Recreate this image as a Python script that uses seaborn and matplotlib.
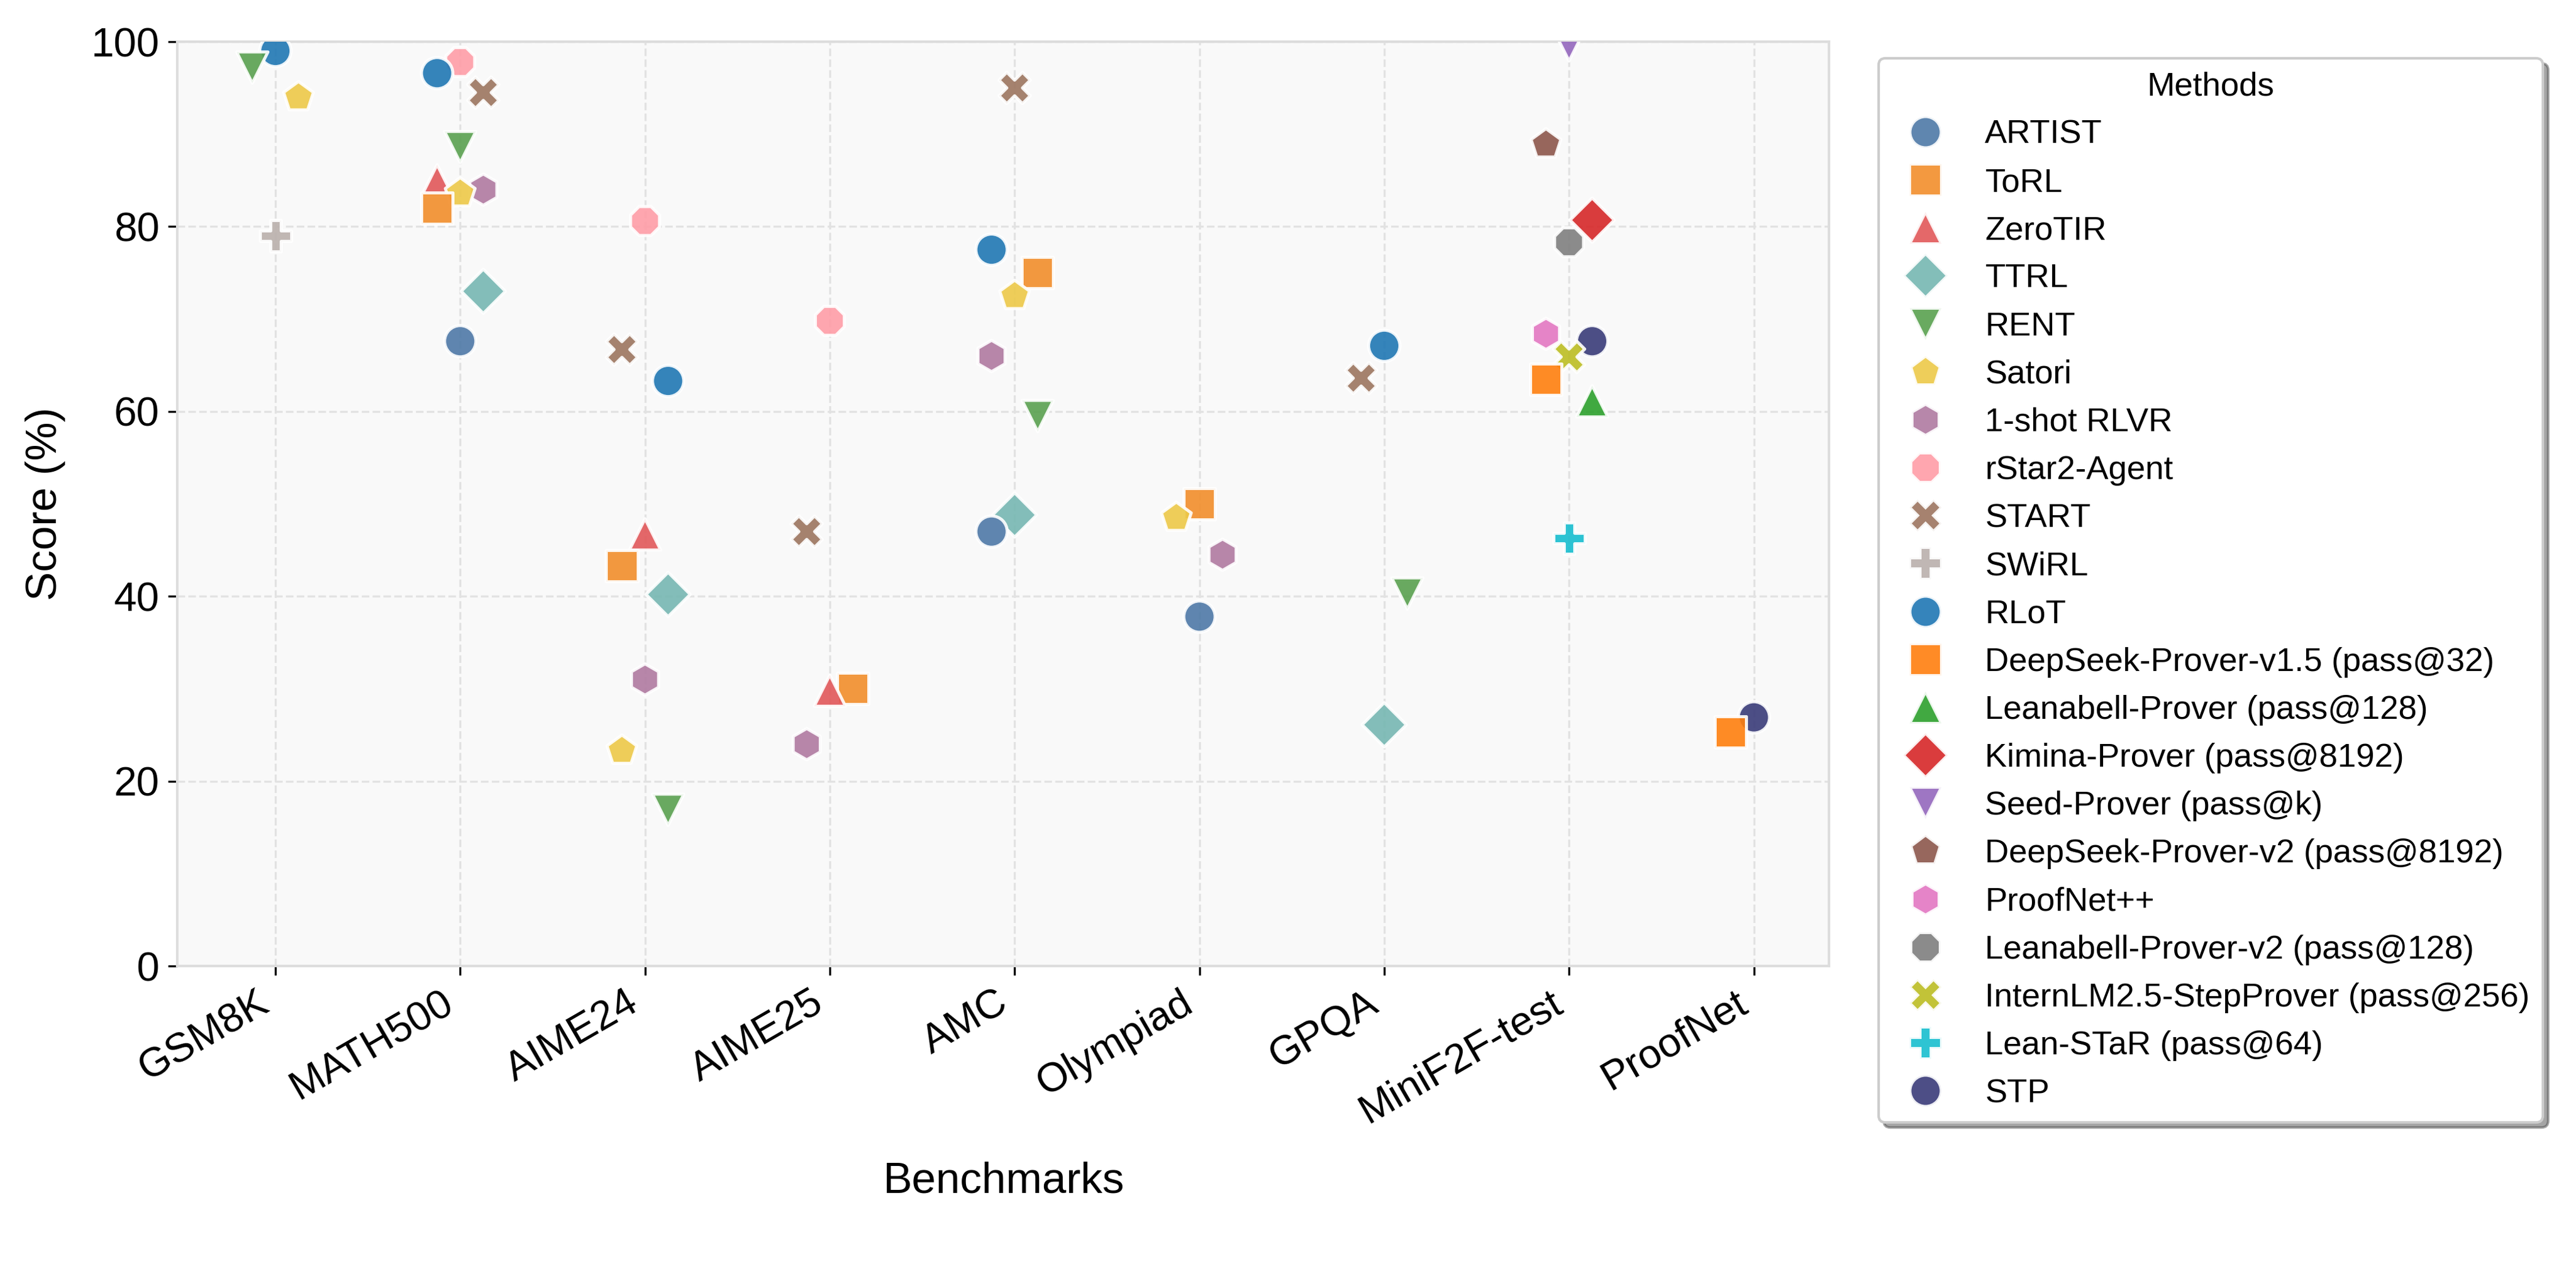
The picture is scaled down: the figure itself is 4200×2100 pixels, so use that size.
import numpy as np
import pandas as pd
import matplotlib.pyplot as plt
import seaborn as sns

# Benchmarks on the x axis
benchmarks = ["GSM8K", "MATH500", "AIME24", "AIME25", "AMC",
              "Olympiad", "GPQA", "MiniF2F-test", "ProofNet"]

# Methods, in legend order
methods = ["ARTIST", "ToRL", "ZeroTIR", "TTRL", "RENT", "Satori",
           "1-shot RLVR", "rStar2-Agent", "START", "SWiRL", "RLoT",
           "DeepSeek-Prover-v1.5 (pass@32)", "Leanabell-Prover (pass@128)",
           "Kimina-Prover (pass@8192)", "Seed-Prover (pass@k)",
           "DeepSeek-Prover-v2 (pass@8192)", "ProofNet++",
           "Leanabell-Prover-v2 (pass@128)", "InternLM2.5-StepProver (pass@256)",
           "Lean-STaR (pass@64)", "STP"]

# Scores per benchmark
gsm8k = {"RLoT": 99.0, "RENT": 97.2, "Satori": 94.0, "SWiRL": 79.0}
math500 = {"rStar2-Agent": 97.8, "RLoT": 96.6, "START": 94.5, "RENT": 88.6,
           "ZeroTIR": 85.0, "1-shot RLVR": 84.0, "Satori": 83.6, "ToRL": 82.0,
           "TTRL": 73.0, "ARTIST": 67.6}
aime24 = {"rStar2-Agent": 80.6, "START": 66.7, "RLoT": 63.3, "ZeroTIR": 46.7,
          "ToRL": 43.3, "TTRL": 40.2, "1-shot RLVR": 31.0, "Satori": 23.3,
          "RENT": 16.9}
aime25 = {"rStar2-Agent": 69.8, "START": 47.0, "ToRL": 30.0, "ZeroTIR": 29.8,
          "1-shot RLVR": 24.0}
amc = {"START": 95.0, "RLoT": 77.5, "ToRL": 75.0, "Satori": 72.5,
       "1-shot RLVR": 66.0, "RENT": 59.5, "TTRL": 48.8, "ARTIST": 47.0}
olympiad = {"ToRL": 50.0, "Satori": 48.5, "1-shot RLVR": 44.5, "ARTIST": 37.8}
gpqa = {"RLoT": 67.1, "START": 63.6, "RENT": 40.3, "TTRL": 26.1}
minif2f = {"Seed-Prover (pass@k)": 99.6, "DeepSeek-Prover-v2 (pass@8192)": 88.9,
           "Kimina-Prover (pass@8192)": 80.7, "Leanabell-Prover-v2 (pass@128)": 78.3,
           "ProofNet++": 68.4, "STP": 67.6, "InternLM2.5-StepProver (pass@256)": 65.9,
           "DeepSeek-Prover-v1.5 (pass@32)": 63.5, "Leanabell-Prover (pass@128)": 61.1,
           "Lean-STaR (pass@64)": 46.3}
proofnet = {"STP": 26.9, "DeepSeek-Prover-v1.5 (pass@32)": 25.3}

bench_scores = [gsm8k, math500, aime24, aime25, amc, olympiad, gpqa, minif2f, proofnet]

palette = ["#4e79a7", "#f28e2b", "#e15759", "#76b7b2", "#59a14f", "#edc948",
           "#b07aa1", "#ff9da7", "#9c755f", "#bab0ac",
           "#1f77b4", "#ff7f0e", "#2ca02c", "#d62728", "#9467bd", "#8c564b",
           "#e377c2", "#7f7f7f", "#bcbd22", "#17becf", "#393b79"]
markers = ["o", "s", "^", "D", "v", "p", "h", "8", "X", "P"] * 2 + ["o"]

# long table, points within a benchmark spread by score rank
rows = []
shift = [0.0, -0.125, 0.125]
for i, (bench, sc) in enumerate(zip(benchmarks, bench_scores)):
    ranked = sorted(sc.items(), key=lambda kv: -kv[1])
    for r, (m, v) in enumerate(ranked):
        rows.append({"Benchmark": bench, "Method": m, "Score": v,
                     "xpos": i + shift[r % 3]})
df = pd.DataFrame(rows)

sns.set_style("ticks")
plt.rcParams["font.family"] = ["Liberation Sans", "DejaVu Sans"]
plt.rcParams["text.color"] = "black"
plt.rcParams["axes.labelcolor"] = "black"
plt.rcParams["xtick.color"] = "black"
plt.rcParams["ytick.color"] = "black"

fig, ax = plt.subplots(figsize=(14, 7), dpi=300)
fig.subplots_adjust(left=0.0688, right=0.710, top=0.9676, bottom=0.25)

ax.set_facecolor("#f9f9f9")
ax.set_axisbelow(True)
ax.grid(True, linestyle="--", color="#e2e2e2", linewidth=0.8)

sns.scatterplot(
    data=df, x="xpos", y="Score",
    hue="Method", style="Method",
    hue_order=methods, style_order=methods,
    palette=palette, markers=markers,
    s=150, alpha=0.9, edgecolor="white", linewidth=1.2,
    ax=ax, zorder=3,
)

ax.set_ylim(0, 100)
ax.set_yticks([0, 20, 40, 60, 80, 100])
ax.set_xticks(range(len(benchmarks)))
ax.set_xticklabels(benchmarks, rotation=30, ha="right")
ax.tick_params(axis="both", labelsize=16, length=3.5, width=0.8,
               color="black", labelcolor="black")

for sp in ax.spines.values():
    sp.set_color("#dddddd")
    sp.set_linewidth(1.0)

ax.set_xlabel("Benchmarks", fontsize=17, labelpad=12)
ax.set_ylabel("Score (%)", fontsize=17, labelpad=10)

sns.move_legend(
    ax, "upper left", bbox_to_anchor=(1.02, 1),
    title="Methods", fontsize=13, title_fontsize=13,
    frameon=True, shadow=True, fancybox=True, framealpha=1,
    labelspacing=0.52,
)
leg = ax.get_legend()
leg.get_frame().set_edgecolor("#cccccc")
leg.get_frame().set_facecolor("white")
for t in leg.get_texts():
    t.set_color("black")

plt.savefig("out.png", dpi=300)
print("saved out.png")
